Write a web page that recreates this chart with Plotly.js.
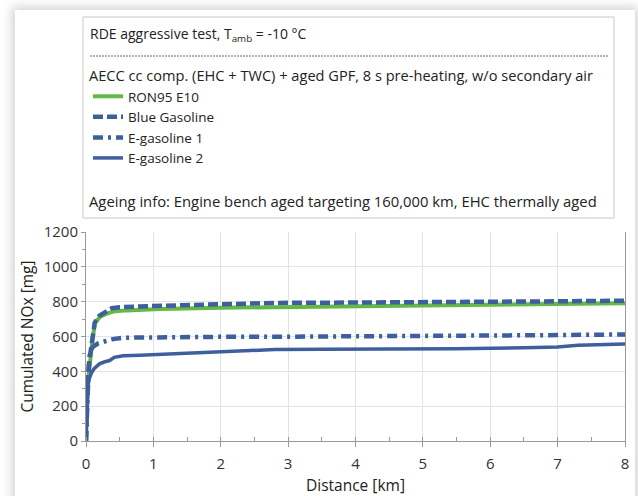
<!DOCTYPE html>
<html>
<head>
<meta charset="utf-8">
<script src="https://cdn.plot.ly/plotly-3.0.1.min.js"></script>
<style>
  html, body { margin: 0; padding: 0; background: #ffffff; width: 638px; height: 496px; overflow: hidden; }
  #card { position: absolute; left: 15px; top: 10px; width: 620px; height: 520px; background: #fff;
          box-shadow: 0 0 10px 3px rgba(0,0,0,0.18); }
  #chart { position: absolute; left: 0; top: 0; width: 638px; height: 496px; }
</style>
</head>
<body>
<div id="card"></div>
<div id="chart"></div>
<script>
// ---- data ----
const seriesNames = ["RON95 E10", "Blue Gasoline", "E-gasoline 1", "E-gasoline 2"];

const ronX = [0, 0.01, 0.035, 0.06, 0.085, 0.13, 0.21, 0.3, 0.4, 0.6, 1.1, 2, 3, 4, 5, 6, 7, 8];
const ronY = [0, 264, 362, 460, 542, 676, 714, 730, 743, 750, 758, 765, 770, 775, 780, 783, 787, 791];

const blueX = [0, 0.02, 0.05, 0.085, 0.13, 0.2, 0.3, 0.38, 0.5, 0.65, 1, 2, 2.8, 4, 5, 6, 7, 8];
const blueY = [0, 300, 465, 560, 680, 720, 740, 762, 768, 772, 775, 785, 793, 795, 796, 798, 802, 806];

const eg1X = [0, 0.02, 0.04, 0.06, 0.1, 0.18, 0.3, 0.4, 0.55, 1, 2, 3, 4, 5, 6, 7, 8];
const eg1Y = [0, 250, 420, 510, 540, 561, 575, 585, 593, 596, 598, 599, 600, 601, 604, 608, 612];

const eg2X = [0, 0.01, 0.03, 0.05, 0.08, 0.12, 0.2, 0.28, 0.35, 0.42, 0.55, 0.8, 1.0, 1.5, 2.0, 2.8, 3.5, 4.7, 5.5, 6.5, 7.0, 7.3, 7.6, 8.0];
const eg2Y = [0, 150, 320, 360, 390, 415, 443, 455, 462, 480, 490, 493, 496, 505, 515, 525, 527, 528, 530, 535, 540, 550, 553, 557];

const xTickVals = [0, 1, 2, 3, 4, 5, 6, 7, 8];
const yTickVals = [0, 200, 400, 600, 800, 1000, 1200];

const headerLine1 = "RDE aggressive test, T<sub>amb</sub> = -10 °C";
const headerLine2 = "AECC cc comp. (EHC + TWC) + aged GPF, 8 s pre-heating, w/o secondary air";
const footerLine = "Ageing info: Engine bench aged targeting 160,000 km, EHC thermally aged";

// ---- styling ----
const BLUE = "#3e5f9e";
const GREEN = "#64b846";
const FONT = "Open Sans, DejaVu Sans, sans-serif";
const TXT = "#222";

// plot area pixel frame (used to place box/annotations in paper coords)
const W = 638, H = 496;
const M = {l: 86, r: 13, t: 232, b: 55};
const pw = W - M.l - M.r, ph = H - M.t - M.b;
const px = x => (x - M.l) / pw;
const py = y => (H - M.b - y) / ph;

const traces = [
  {x: ronX, y: ronY, name: seriesNames[0], mode: "lines", line: {color: GREEN, width: 4}},
  {x: blueX, y: blueY, name: seriesNames[1], mode: "lines", line: {color: BLUE, width: 4.5, dash: "10px,4px"}},
  {x: eg1X, y: eg1Y, name: seriesNames[2], mode: "lines", line: {color: BLUE, width: 4.5, dash: "10px,5px,3px,5px"}},
  {x: eg2X, y: eg2Y, name: seriesNames[3], mode: "lines", line: {color: BLUE, width: 3.5}}
];

const layout = {
  width: W, height: H,
  margin: M,
  paper_bgcolor: "rgba(0,0,0,0)",
  plot_bgcolor: "rgba(0,0,0,0)",
  font: {family: FONT, size: 13, color: TXT},
  showlegend: true,
  legend: {
    x: px(88), y: py(81), xanchor: "left", yanchor: "top",
    bgcolor: "rgba(0,0,0,0)", borderwidth: 0,
    font: {family: FONT, size: 13.5, color: TXT},
    tracegroupgap: 0
  },
  xaxis: {
    range: [0, 8], tickvals: xTickVals, ticks: "outside", ticklen: 5, tickcolor: "#999",
    ticklabelstandoff: 4,
    showgrid: true, gridcolor: "#e3e3e3", showline: true, linecolor: "#999", linewidth: 1,
    zeroline: false,
    minor: {dtick: 0.5, ticks: "inside", ticklen: 4, tickcolor: "#999", showgrid: false},
    tickfont: {family: FONT, size: 15, color: "#333"},
    title: {text: "Distance [km]", font: {family: FONT, size: 15.5, color: TXT}, standoff: 8}
  },
  yaxis: {
    range: [0, 1200], tickvals: yTickVals, ticks: "outside", ticklen: 4, tickcolor: "#999",
    showgrid: true, gridcolor: "#e3e3e3", showline: true, linecolor: "#999", linewidth: 1,
    mirror: true, zeroline: false,
    minor: {dtick: 100, ticks: "outside", ticklen: 3, tickcolor: "#999", showgrid: false},
    tickfont: {family: FONT, size: 15, color: "#333"},
    title: {text: "Cumulated NOx [mg]", font: {family: FONT, size: 15.5, color: TXT}, standoff: 6}
  },
  shapes: [
    {type: "rect", xref: "paper", yref: "paper", x0: px(83), x1: px(614), y0: py(218), y1: py(17),
     line: {color: "#c8c8c8", width: 1}, fillcolor: "rgba(255,255,255,0)", layer: "below"},
    {type: "line", xref: "paper", yref: "paper", x0: px(90), x1: px(608), y0: py(56), y1: py(56),
     line: {color: "#666", width: 1, dash: "2px,1px"}}
  ],
  annotations: [
    {xref: "paper", yref: "paper", x: px(88), y: py(34), xanchor: "left", yanchor: "middle",
     text: headerLine1, showarrow: false, font: {family: FONT, size: 14, color: TXT}},
    {xref: "paper", yref: "paper", x: px(87), y: py(75), xanchor: "left", yanchor: "middle",
     text: headerLine2, showarrow: false, font: {family: FONT, size: 14.6, color: TXT}},
    {xref: "paper", yref: "paper", x: px(87), y: py(201), xanchor: "left", yanchor: "middle",
     text: footerLine, showarrow: false, font: {family: FONT, size: 14.8, color: TXT}}
  ]
};

Plotly.newPlot("chart", traces, layout, {displayModeBar: false, staticPlot: true});
</script>
</body>
</html>
